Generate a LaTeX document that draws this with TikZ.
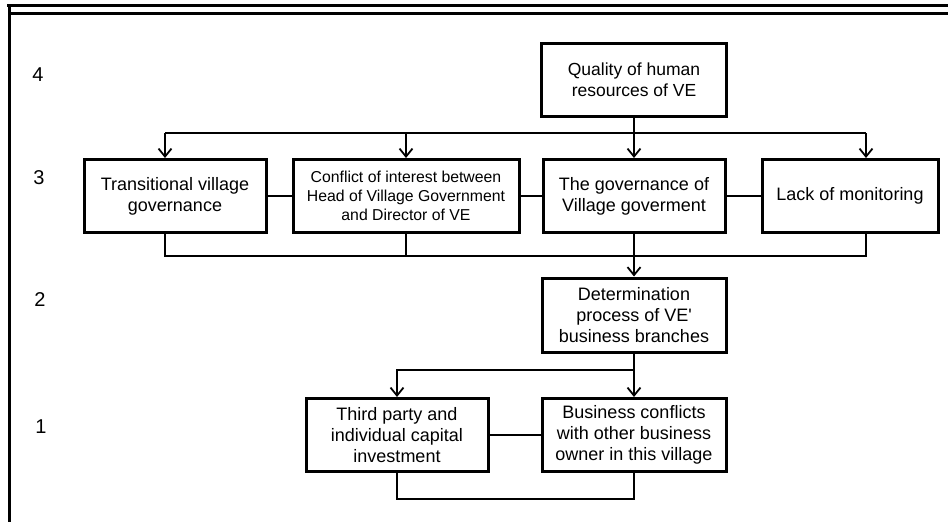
\documentclass[tikz,border=0pt]{standalone}
\usepackage{fontspec}
\setmainfont{Liberation Sans}
\newfontfamily\plainfont{Liberation Sans}
\usetikzlibrary{positioning, arrows.meta}

\begin{document}
\begin{tikzpicture}[
	x=1pt, y=-1pt,
	on grid,
	factor/.style={
		draw,
		rectangle,
		line width=3pt,
		minimum width=182pt,
		minimum height=73pt,
		align=center,
		inner sep=2pt,
		font=\plainfont\fontsize{18}{21}\selectfont,
		fill=white
	},
	tightbox/.style={
		font=\plainfont\fontsize{15.8}{19}\selectfont
	},
	rank/.style={
		font=\plainfont\fontsize{20}{24}\selectfont
	},
	link/.style={
		draw,
		line width=1.8pt
	},
	flow/.style={
		link,
		-{Straight Barb[length=8pt,width=13pt]}
	},
	rule/.style={
		line width=3pt
	}
	]
	\useasboundingbox (0,0) rectangle (948,522);

	% Frame
	\draw[rule] (7,5) -- (948,5);
	\draw[rule] (9,5) -- (9,522);
	\draw[rule, line width=2.5pt] (10.5,13.5) -- (948,13.5);

	% Levels
	\node[rank] (r4) at (38,75) {4};
	\node[rank] (r3) at (39,178) {3};
	\node[rank] (r2) at (40,300) {2};
	\node[rank] (r1) at (41,427) {1};

	% Factors
	\node[factor, minimum width=185pt, font=\plainfont\fontsize{17.5}{21}\selectfont] (qual) at (634,80) {Quality of human\\resources of VE};
	\node[factor] (govern) [below=116pt of qual] {The governance of\\Village goverment};
	\node[factor, tightbox, minimum width=226pt] (conflict) [left=228pt of govern] {Conflict of interest between\\Head of Village Government\\and Director of VE};
	\node[factor] (trans) [left=231pt of conflict] {Transitional village\\governance};
	\node[factor, minimum width=176pt] (lack) [right=216pt of govern] {Lack of monitoring};
	\node[factor, minimum width=184pt, minimum height=74pt] (det) [below=119pt of govern] {Determination\\process of VE'\\business branches};
	\node[factor, minimum width=184pt] (biz) [below=120pt of det] {Business conflicts\\with other business\\owner in this village};
	\node[factor] (third) [left=237pt of biz] {Third party and\\individual capital\\investment};

	% Bus lines
	\coordinate (spread) at (0,133);
	\coordinate (gather) at (0,256);
	\coordinate (split) at (0,370);
	\coordinate (loop) at (0,499);
	\coordinate (ta) at ([xshift=-10pt]trans.north);
	\coordinate (la) at ([xshift=16pt]lack.north);

	% Connectors
	\draw[link] (ta |- spread) -- (la |- spread);
	\draw[flow] (qual) -- (govern);
	\draw[flow] (ta |- spread) -- (ta);
	\draw[flow] (conflict.north |- spread) -- (conflict);
	\draw[flow] (la |- spread) -- (la);
	\draw[link] (trans) -- (conflict) (conflict) -- (govern) (govern) -- (lack);
	\draw[link] (ta |- trans.south) -- (ta |- gather) -- (la |- gather) -- (la |- lack.south);
	\draw[link] (conflict) -- (conflict.south |- gather);
	\draw[flow] (govern) -- (det);
	\draw[flow] (det) -- (biz);
	\draw[flow] (det.south |- split) -| (third);
	\draw[link] (third) -- (biz);
	\draw[link] (third.south) -- (third.south |- loop) -| (biz.south);
\end{tikzpicture}
\end{document}
